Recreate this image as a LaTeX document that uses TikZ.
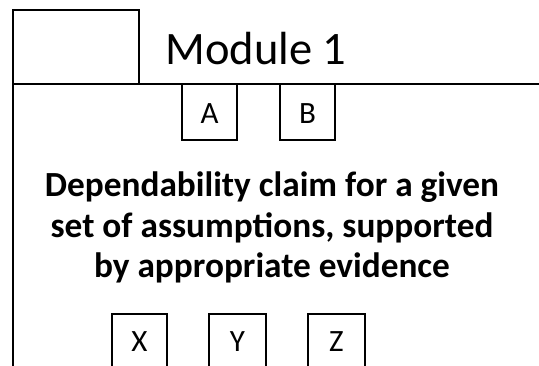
\documentclass[tikz,border=0pt]{standalone}
\usepackage{fontspec}
\setmainfont{Carlito}
\begin{document}
\begin{tikzpicture}[x=1pt,y=-1pt,
  pin/.style={draw,line width=2.5pt},
  lbl/.style={font=\fontsize{31}{36}\selectfont,inner sep=0pt,anchor=base}]
\useasboundingbox (0,0) rectangle (539,366);
\begin{scope}
\clip (0,0) rectangle (539,366);
% module tab and body
\draw[pin] (13,10) rectangle (139,84);
\coordinate (bodyTL) at (13,84);
\coordinate (bodyTR) at (560,84);
\coordinate (bodyBL) at (13,380);
\draw[pin] (bodyTR) -- (bodyTL) -- (bodyBL);
\node[font=\fontsize{46.5}{56}\selectfont,inner sep=0pt,anchor=base] (title) at (256,65) {Module 1};
% upper interface boxes
\draw[pin] (182,84) rectangle (237,140);
\draw[pin] (280,84) rectangle (335,140);
\node[lbl] (a) at (209.5,124) {A};
\node[lbl] (b) at (307.5,124) {B};
% claim (anchored at the baseline of its last line)
\node[font=\bfseries\fontsize{35.3}{40.5}\selectfont,align=center,inner sep=0pt,anchor=base] (claim) at (272,278)
  {Dependability claim for a given\\set of assumptions, supported\\by appropriate evidence};
% lower interface boxes
\draw[pin] (112,314) rectangle (167,380);
\draw[pin] (209,314) rectangle (266,380);
\draw[pin] (308,314) rectangle (365,380);
\node[lbl] (x) at (139.5,352) {X};
\node[lbl] (y) at (237.5,352) {Y};
\node[lbl] (z) at (336.5,352) {Z};
\end{scope}
\end{tikzpicture}
\end{document}
